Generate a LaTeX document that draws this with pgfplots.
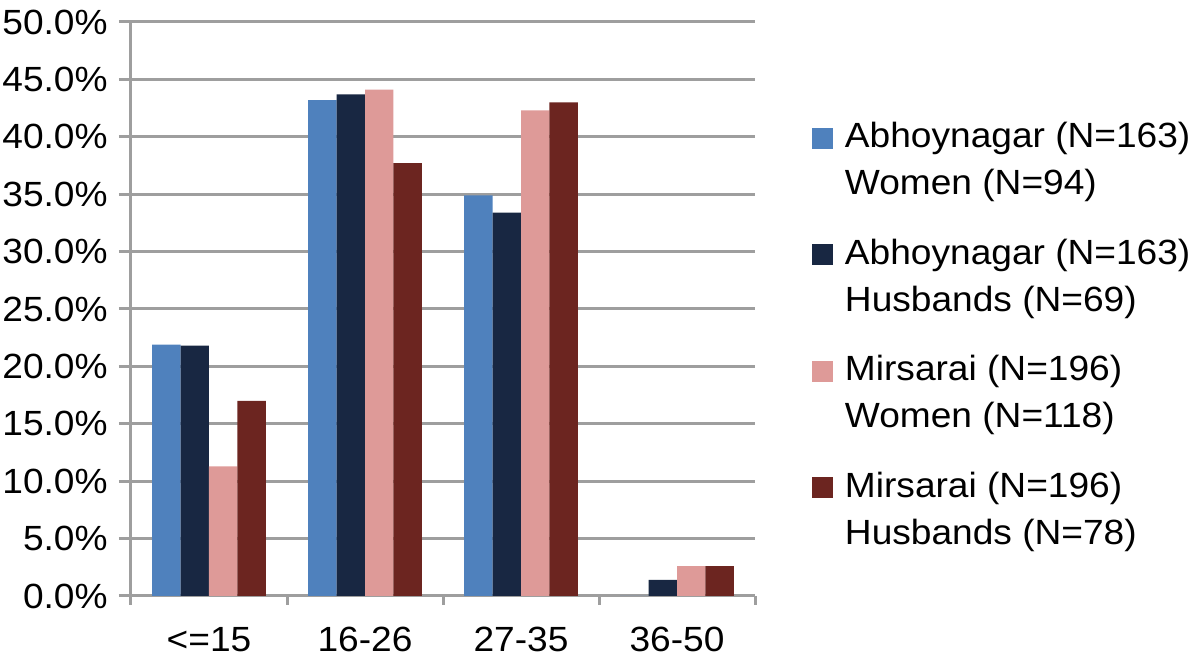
\documentclass[border=0pt]{standalone}
\usepackage{fontspec}
\setmainfont{Liberation Sans}[FakeStretch=1.06]
\usepackage{pgfplots}
\pgfplotsset{compat=1.18}
\definecolor{cA}{RGB}{79,129,189}
\definecolor{cB}{RGB}{24,39,66}
\definecolor{cC}{RGB}{222,154,152}
\definecolor{cD}{RGB}{108,37,32}
\definecolor{gridgray}{RGB}{158,158,158}
\newcommand\two[2]{\vtop{\baselineskip=23.5pt\hbox{\rule{0pt}{13pt}#1}\hbox{#2\rule[-4pt]{0pt}{4pt}}}}
\newcommand\lfont{\fontsize{17.5}{21}\selectfont}
\begin{document}
\begin{tikzpicture}
\begin{axis}[
  name=ax,
  scale only axis, width=312pt, height=287pt,
  ymin=0, ymax=50, xmin=-0.5, xmax=3.5,
  ybar=0pt, bar width=14.2pt,
  axis lines*=left,
  axis line style={-, draw=gridgray, line width=1.5pt},
  ymajorgrids, grid style={draw=gridgray, line width=1.5pt},
  tick align=outside,
  ytick={0,5,10,15,20,25,30,35,40,45,50},
  yticklabels={0.0\%,5.0\%,10.0\%,15.0\%,20.0\%,25.0\%,30.0\%,35.0\%,40.0\%,45.0\%,50.0\%},
  xtick={0,1,2,3},
  xticklabels={<=15\hspace{11pt},16-26,27-35,36-50},
  minor xtick={-0.5,0.5,1.5,2.5,3.5},
  major tick length=6pt, minor tick length=4.5pt,
  major x tick style={draw=none},
  minor x tick style={draw=gridgray, line width=1.5pt},
  y tick style={draw=gridgray, line width=1.5pt},
  tick label style={font=\lfont},
  yticklabel style={anchor=east, inner sep=0pt, xshift=-5.5pt},
  xticklabel style={anchor=base, inner sep=0pt, yshift=-22pt},
  legend cell align=left,
  legend style={at={(1.0913,0.8258)}, anchor=north west, draw=none, fill=none,
    inner sep=0pt, outer sep=0pt, font=\lfont, row sep=43.7pt, column sep=6pt,
    nodes={inner sep=0pt, anchor=base west}},
  legend image code/.code={\fill[#1, draw=none] (0pt,-0.5pt) rectangle (10.5pt,10pt);},
]
\addplot[fill=cA, draw=none] coordinates {(0,21.9) (1,43.2) (2,34.9) (3,0)};
\addplot[fill=cB, draw=none] coordinates {(0,21.8) (1,43.7) (2,33.4) (3,1.4)};
\addplot[fill=cC, draw=none] coordinates {(0,11.3) (1,44.1) (2,42.3) (3,2.6)};
\addplot[fill=cD, draw=none] coordinates {(0,17.0) (1,37.7) (2,43.0) (3,2.6)};
\addlegendentry{\two{Abhoynagar (N=163)}{Women (N=94)}}
\addlegendentry{\two{Abhoynagar (N=163)}{Husbands (N=69)}}
\addlegendentry{\two{Mirsarai (N=196)}{Women (N=118)}}
\addlegendentry{\two{Mirsarai (N=196)}{Husbands (N=78)}}
\end{axis}
\pgfresetboundingbox
\path[use as bounding box] ([shift={(-65.5pt,-33.5pt)}]ax.south west) rectangle ++(600pt,331.5pt);
\end{tikzpicture}
\end{document}
